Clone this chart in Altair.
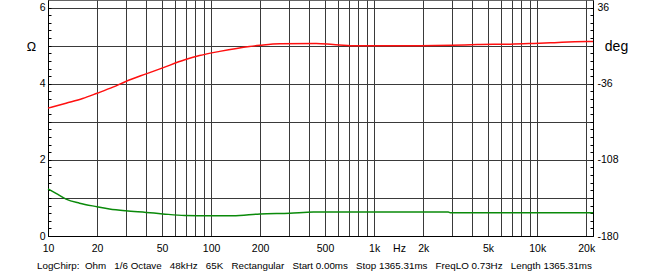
import altair as alt
import pandas as pd

# Impedance magnitude (red), Ohm
red_freq = [10, 12.9, 16.3, 20, 25, 30, 40, 50, 69, 85, 113, 172, 200, 264, 441, 561, 746,
            1000, 1920, 3000, 4300, 6880, 9570, 12760, 16970, 22000]
red_ohm = [3.36, 3.49, 3.61, 3.75, 3.91, 4.06, 4.26, 4.41, 4.63, 4.74, 4.85, 4.98, 5.01, 5.05,
           5.06, 5.03, 5.00, 5.00, 5.00, 5.01, 5.03, 5.04, 5.06, 5.08, 5.10, 5.11]

# Green trace, degrees (right axis)
green_freq = [10, 11.2, 12.9, 15.6, 20, 23.8, 30, 40, 50.6, 69, 100, 136, 200, 304, 424,
              1000, 2850, 2930, 22000]
green_deg = [-135.4, -139.7, -145.1, -149.0, -152.3, -154.4, -156.2, -157.7, -159.1, -160.6,
             -160.9, -160.9, -159.1, -158.4, -157.3, -157.3, -157.3, -158.0, -158.0]

x_grid = [10, 20, 30, 40, 50, 60, 70, 80, 90,
          100, 200, 300, 400, 500, 600, 700, 800, 900,
          1000, 2000, 3000, 4000, 5000, 6000, 7000, 8000, 9000,
          10000, 20000]
x_labels = [10, 20, 50, 100, 200, 500, 1000, 2000, 5000, 10000, 20000]
ohm_grid = [0, 1, 2, 3, 4, 5, 6]
deg_labels = [-180, -108, -36, 36]
minor_ohm = [round(i * 0.2, 1) for i in range(0, 31)]

G = "\u00a0\u00a0 "
footer = ("LogChirp:\u00a0 Ohm" + G + "1/6 Octave" + G + "48kHz" + G + "65K" + G +
          "Rectangular" + G + "Start 0.00ms" + G + "Stop 1365.31ms" + G +
          "FreqLO 0.73Hz" + G + "Length 1365.31ms")

red_df = pd.DataFrame({"f": red_freq, "ohm": red_ohm})
green_df = pd.DataFrame({"f": green_freq, "deg": green_deg})

FONT = "Liberation Sans"
GRID = "#3a3a3a"
OHM_DOMAIN = [0, 6.2]
DEG_DOMAIN = [-180, 43.2]
LFS = 10.5

lab_list = "[" + ",".join(str(v) for v in x_labels) + "]"
x_enc = alt.X(
    "f:Q",
    scale=alt.Scale(type="log", domain=[10, 22000], nice=False),
    axis=alt.Axis(
        values=x_grid, grid=True, gridColor=GRID, gridWidth=1, gridOpacity=1,
        ticks=False, tickSize=0, domainColor="#000", domainWidth=1,
        labelExpr=("indexof(" + lab_list + ", datum.value) >= 0 ? "
                   "(datum.value >= 1000 ? (datum.value/1000) + 'k' : '' + datum.value) : ''"),
        labelFont=FONT, labelFontSize=LFS, labelColor="#000", labelPadding=7,
        labelOverlap=False, labelFlush=False,
        title="Hz", titleFont=FONT, titleFontSize=LFS, titleFontWeight="normal",
        titleColor="#000", titleX=351, titleY=7, titleAlign="center", titleBaseline="top",
    ),
)

red = alt.Chart(red_df).mark_line(color="#ff1010", strokeWidth=1.5, interpolate="monotone").encode(
    x=x_enc,
    y=alt.Y("ohm:Q", scale=alt.Scale(domain=OHM_DOMAIN, nice=False, zero=False),
            axis=alt.Axis(orient="left", values=ohm_grid, grid=True, gridColor=GRID,
                          gridWidth=1, gridOpacity=1, ticks=False, tickSize=0,
                          domainColor="#000", domainWidth=1,
                          labelExpr="datum.value % 2 == 0 ? datum.label : ''",
                          labelFont=FONT, labelFontSize=LFS, labelColor="#000",
                          labelPadding=3, labelOverlap=False, labelFlush=False,
                          title="Ω", titleFont=FONT, titleFontSize=12.5,
                          titleFontWeight="normal", titleColor="#000", titleAngle=0,
                          titleX=-17, titleY=46, titleAlign="center",
                          titleBaseline="middle")),
)

green = alt.Chart(green_df).mark_line(color="#0a8a0a", strokeWidth=1.5, interpolate="monotone").encode(
    x=x_enc,
    y=alt.Y("deg:Q", scale=alt.Scale(domain=DEG_DOMAIN, nice=False, zero=False),
            axis=alt.Axis(orient="right", values=deg_labels, grid=False, ticks=False,
                          tickSize=0, domainColor="#000", domainWidth=1,
                          labelExpr="'' + datum.value",
                          labelFont=FONT, labelFontSize=LFS, labelColor="#000",
                          labelPadding=4, labelOverlap=False, labelFlush=False,
                          title="deg", titleFont=FONT, titleFontSize=14,
                          titleFontWeight="normal", titleColor="#000", titleAngle=0,
                          titleX=23, titleY=46, titleAlign="center",
                          titleBaseline="middle")),
)

minor_left = alt.Chart(red_df).mark_line(opacity=0).encode(
    x=x_enc,
    y=alt.Y("ohm:Q", scale=alt.Scale(domain=OHM_DOMAIN, nice=False, zero=False),
            axis=alt.Axis(orient="right", offset=-545, values=minor_ohm, grid=False,
                          ticks=True, tickSize=3, tickColor="#000", tickWidth=1,
                          labels=False, domain=False, title="")),
)

minor_right = alt.Chart(red_df).mark_line(opacity=0).encode(
    x=x_enc,
    y=alt.Y("ohm:Q", scale=alt.Scale(domain=OHM_DOMAIN, nice=False, zero=False),
            axis=alt.Axis(orient="left", offset=-545, values=minor_ohm, grid=False,
                          ticks=True, tickSize=3, tickColor="#000", tickWidth=1,
                          labels=False, domain=False, title="")),
)

chart = alt.layer(red, green, minor_left, minor_right).resolve_scale(
    y="independent"
).resolve_axis(
    y="independent"
).properties(
    width=545,
    height=236,
    autosize=alt.AutoSizeParams(type="none"),
    padding={"left": 48, "top": 0, "right": 54, "bottom": 41},
    background="#ffffff",
    title=alt.TitleParams(text=footer, orient="bottom", anchor="start", frame="group",
                          font=FONT, fontSize=9.8, fontWeight="normal", color="#000",
                          offset=7, dx=-11),
).configure_view(stroke="#666", strokeWidth=1)

chart.save("out.html", embed_options={"renderer": "svg", "actions": False})
